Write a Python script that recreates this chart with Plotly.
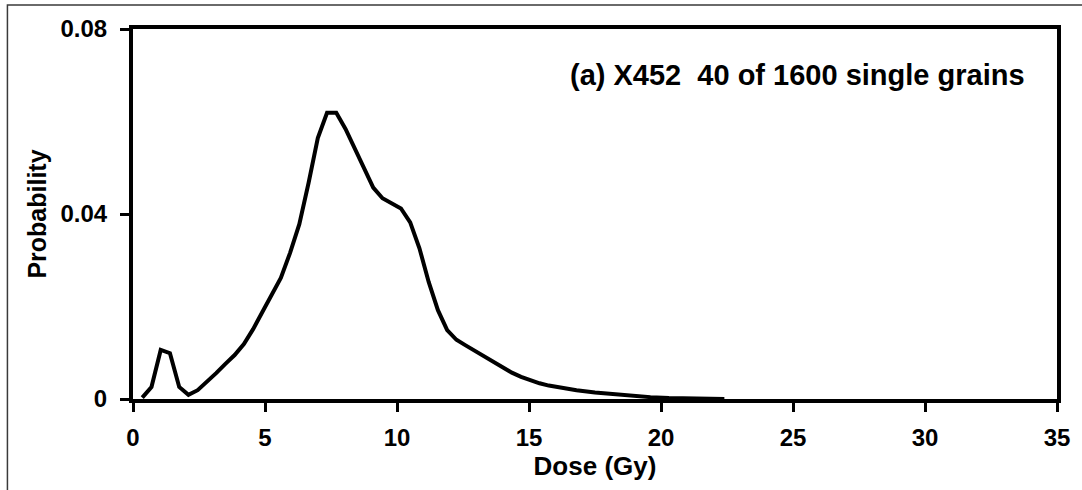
import plotly.graph_objects as go

# Equivalent dose (Gy) grid and summed probability density
dose = [0.35, 0.70, 1.05, 1.40, 1.75, 2.10, 2.45, 2.80, 3.15, 3.50, 3.85, 4.20,
        4.55, 4.90, 5.25, 5.60, 5.95, 6.30, 6.65, 7.00, 7.35, 7.70, 8.05, 8.40,
        8.75, 9.10, 9.45, 9.80, 10.15, 10.50, 10.85, 11.20, 11.55, 11.90, 12.25,
        12.60, 12.95, 13.30, 13.65, 14.00, 14.35, 14.70, 15.05, 15.40, 15.75,
        16.10, 16.80, 17.50, 18.20, 18.90, 19.60, 20.30, 21.00, 21.70, 22.40]
probability = [0.0003, 0.0026, 0.0106, 0.0099, 0.0026, 0.0009, 0.0019, 0.0037,
               0.0056, 0.0076, 0.0095, 0.0119, 0.0151, 0.0188, 0.0225, 0.0262,
               0.0316, 0.0378, 0.0467, 0.0564, 0.0619, 0.0619, 0.0584, 0.0540,
               0.0496, 0.0457, 0.0434, 0.0423, 0.0412, 0.0382, 0.0326, 0.0253,
               0.0192, 0.0149, 0.0128, 0.0116, 0.0104, 0.0092, 0.0080, 0.0068,
               0.0057, 0.0048, 0.0040, 0.0034, 0.0029, 0.0025, 0.0019, 0.0014,
               0.0010, 0.0006, 0.0004, 0.0002, 0.0001, 0.00005, 0.0]

x_ticks = [0, 5, 10, 15, 20, 25, 30, 35]
y_ticks = [0, 0.04, 0.08]
y_tick_text = ["0", "0.04", "0.08"]

FONT = "Liberation Sans, Arial, sans-serif"

fig = go.Figure()
fig.add_trace(go.Scatter(
    x=dose, y=probability, mode="lines",
    line=dict(color="black", width=4),
    showlegend=False, hoverinfo="skip",
))

axis_common = dict(
    showline=True, linecolor="black", linewidth=4, mirror=True,
    showgrid=False, zeroline=False,
    ticks="outside", ticklen=9, tickwidth=3, tickcolor="black",
    tickfont=dict(family=FONT, size=24, color="black", weight="bold"),
)

fig.update_xaxes(
    range=[0, 35], tickvals=x_ticks, ticklabelstandoff=5,
    title=dict(text="<b>Dose (Gy)</b>", font=dict(family=FONT, size=26, color="black"),
               standoff=6),
    **axis_common,
)
fig.update_yaxes(
    range=[0, 0.08], tickvals=y_ticks, ticktext=y_tick_text, ticklabelstandoff=8,
    title=dict(text="<b>Probability</b>", font=dict(family=FONT, size=25, color="black"),
               standoff=8),
    **axis_common,
)

fig.add_annotation(
    text="<b>(a) X452  40 of 1600 single grains</b>",
    xref="paper", yref="paper", x=0.968, y=0.875,
    xanchor="right", yanchor="middle", showarrow=False,
    font=dict(family=FONT, size=29, color="black"),
)

# thin frame around the chart area
fig.add_shape(
    type="rect", xref="paper", yref="paper",
    x0=-0.1359, y0=-0.30, x1=1.05, y1=1.0649,
    line=dict(color="#3a3a3a", width=1.5), fillcolor="rgba(0,0,0,0)",
    layer="below",
)

fig.update_layout(
    width=1082, height=490,
    margin=dict(l=133, r=22, t=29, b=91),
    paper_bgcolor="white", plot_bgcolor="white",
)

fig.write_html("out.html")
